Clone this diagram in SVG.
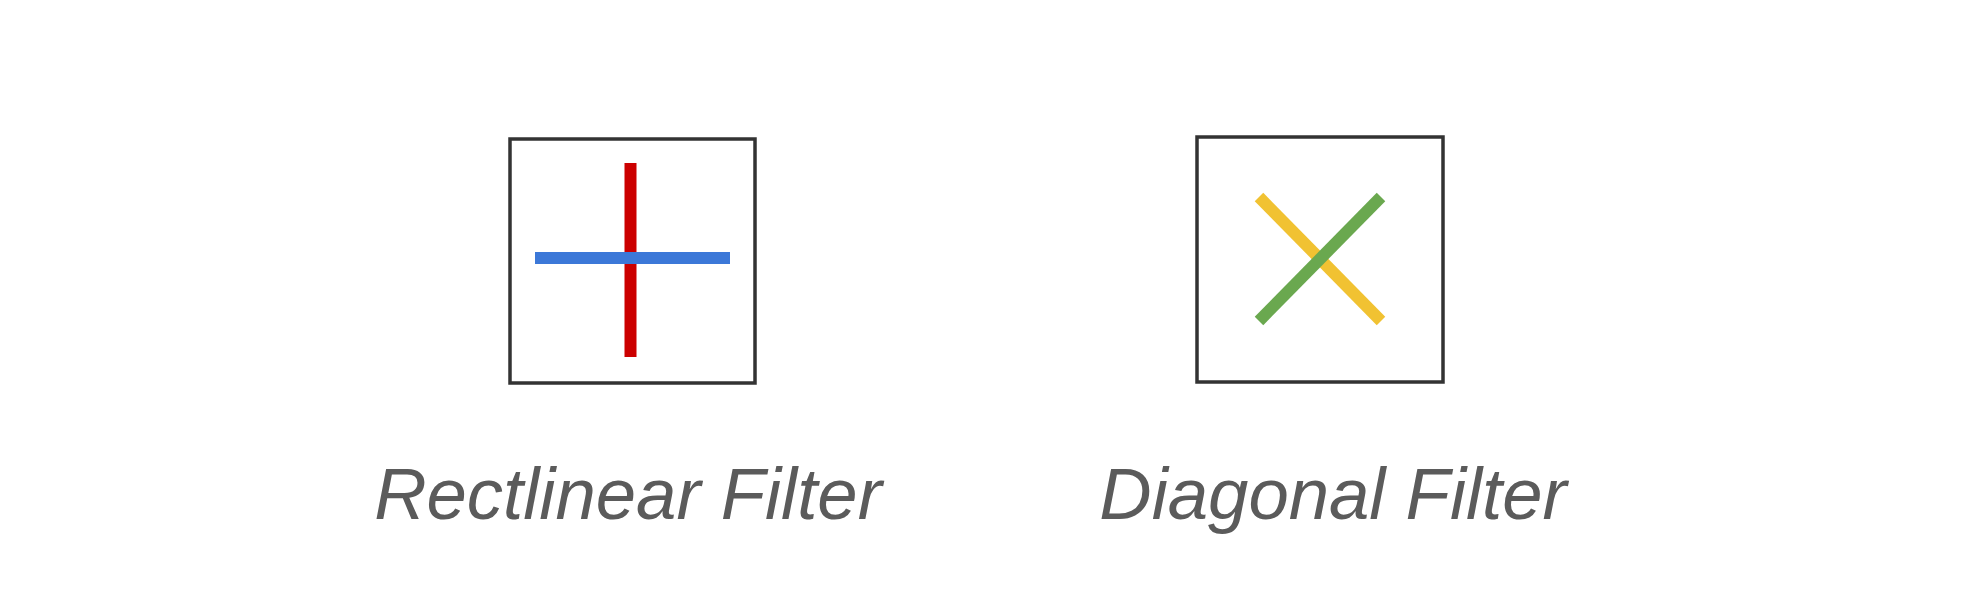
<svg xmlns="http://www.w3.org/2000/svg" width="1986" height="604" viewBox="0 0 1986 604">
<style>
.box{fill:#fff;stroke:#333;stroke-width:3.5}
.bar{stroke-width:12;stroke-linecap:butt;fill:none}
.lbl{font-family:"Liberation Sans",Arial,sans-serif;font-style:italic;font-size:72.5px;fill:#5b5b5b;text-anchor:middle}
</style>
<rect width="1986" height="604" fill="#fff"/>
<g id="rectilinear">
<rect class="box" x="510" y="139" width="245" height="244"/>
<line class="bar" x1="630.5" y1="163" x2="630.5" y2="357" stroke="#cc0000"/>
<line class="bar" x1="535" y1="258" x2="730" y2="258" stroke="#3c78d8"/>
<text class="lbl" x="628" y="519">Rectlinear Filter</text>
</g>
<g id="diagonal">
<rect class="box" x="1197" y="137" width="246" height="245"/>
<line class="bar" x1="1259" y1="197" x2="1381" y2="321" stroke="#f1c232"/>
<line class="bar" x1="1259" y1="321" x2="1381" y2="197" stroke="#6aa84f"/>
<text class="lbl" x="1333" y="519">Diagonal Filter</text>
</g>
<g id="connectors"/>
</svg>
